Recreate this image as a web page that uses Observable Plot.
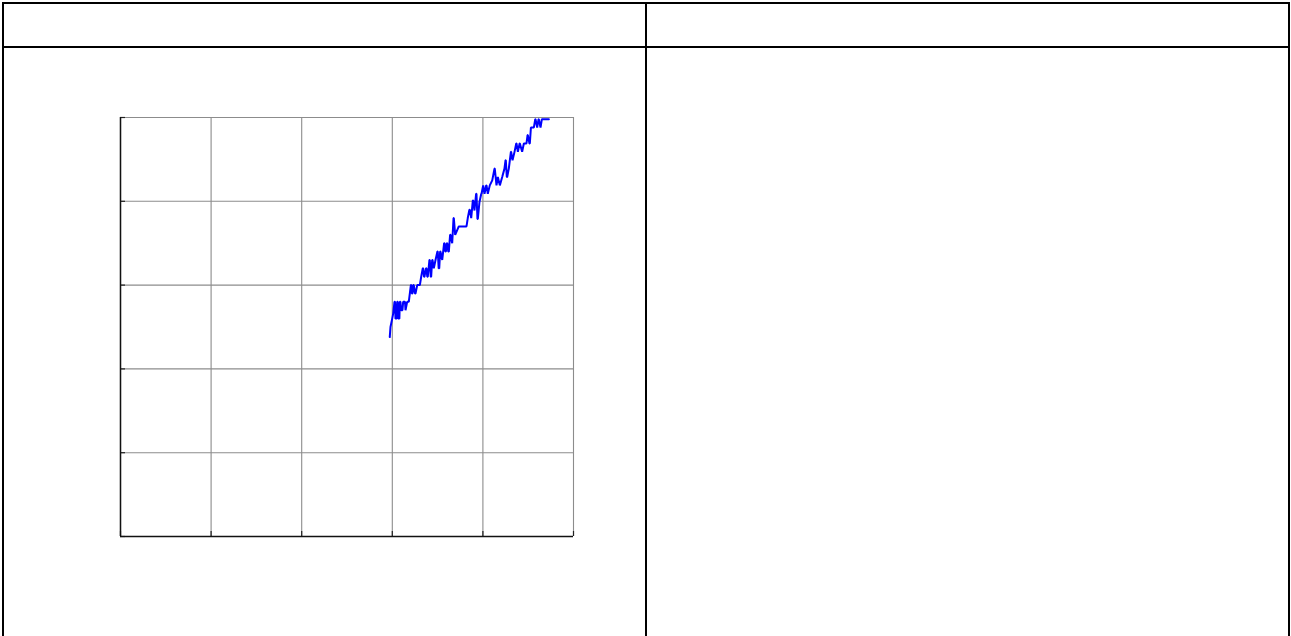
<!DOCTYPE html>
<html>
<head>
<meta charset="utf-8">
<script src="https://cdn.jsdelivr.net/npm/d3@7"></script>
<script src="https://cdn.jsdelivr.net/npm/@observablehq/plot@0.6"></script>
<style>
  html, body { margin: 0; padding: 0; background: #fff; overflow: hidden; }
  body { width: 1291px; height: 636px; position: relative; font-family: "Liberation Sans", Arial, sans-serif; }
  #outer { position: absolute; left: 2px; top: 2px; width: 1284px; height: 700px; border: 2px solid #000; }
  #hline { position: absolute; left: 2px; top: 46px; width: 1288px; height: 2px; background: #000; }
  #vline { position: absolute; left: 645px; top: 2px; width: 2px; height: 700px; background: #000; }
  #chart { position: absolute; left: 0px; top: 48px; }
</style>
</head>
<body>
<div id="outer"></div>
<div id="hline"></div>
<div id="vline"></div>
<div id="chart"></div>
<script>
const xTicks = [0, 1, 2, 3, 4, 5];
const yTicks = [0, 1, 2, 3, 4, 5];

const xs = [2.972, 2.976, 2.980, 2.999, 3.010, 3.024, 3.030, 3.035, 3.048, 3.054, 3.060, 3.065, 3.078, 3.083, 3.090, 3.098,
  3.112, 3.120, 3.140, 3.146, 3.164, 3.182, 3.205, 3.209, 3.216, 3.223, 3.232, 3.237, 3.250, 3.256, 3.275, 3.304,
  3.319, 3.336, 3.341, 3.350, 3.355, 3.372, 3.377, 3.386, 3.392, 3.410, 3.414, 3.424, 3.429, 3.440, 3.444, 3.458, 3.477,
  3.498, 3.502, 3.512, 3.518, 3.528, 3.532, 3.551, 3.572, 3.576, 3.586, 3.591, 3.602, 3.606, 3.618, 3.624, 3.638, 3.642, 3.661,
  3.676, 3.679, 3.694, 3.734, 3.819, 3.833, 3.851, 3.855, 3.871, 3.889, 3.893, 3.907, 3.925, 3.929,
  3.940, 3.944, 3.962, 3.982, 3.985, 4.003, 4.018, 4.036, 4.040, 4.054, 4.076, 4.103, 4.128, 4.131,
  4.150, 4.165, 4.187, 4.213, 4.238, 4.250, 4.253, 4.264, 4.268, 4.286, 4.309, 4.312, 4.327,
  4.349, 4.368, 4.371, 4.386, 4.405, 4.408, 4.433, 4.452, 4.481, 4.493, 4.496, 4.514, 4.518, 4.530, 4.533,
  4.562, 4.578, 4.581, 4.599, 4.614, 4.617, 4.636, 4.651, 4.654, 4.728];
const ys = [2.38, 2.44, 2.50, 2.60, 2.66, 2.80, 2.80, 2.60, 2.60, 2.80, 2.80, 2.60, 2.60, 2.80, 2.80, 2.70,
  2.70, 2.80, 2.80, 2.70, 2.80, 2.80, 3.00, 3.00, 2.90, 2.90, 3.00, 3.00, 2.90, 2.90, 3.00, 3.00,
  3.10, 3.20, 3.20, 3.10, 3.10, 3.20, 3.20, 3.10, 3.10, 3.30, 3.30, 3.10, 3.10, 3.30, 3.30, 3.20, 3.30,
  3.40, 3.40, 3.20, 3.20, 3.40, 3.40, 3.30, 3.50, 3.50, 3.40, 3.40, 3.50, 3.50, 3.40, 3.40, 3.60, 3.60, 3.50,
  3.80, 3.80, 3.60, 3.70, 3.70, 3.80, 3.90, 3.90, 3.80, 4.01, 4.01, 3.89, 4.09, 4.09,
  3.79, 3.79, 3.99, 4.09, 4.09, 4.19, 4.09, 4.19, 4.19, 4.09, 4.19, 4.25, 4.39, 4.39,
  4.19, 4.29, 4.19, 4.29, 4.39, 4.49, 4.49, 4.29, 4.29, 4.39, 4.59, 4.59, 4.49,
  4.59, 4.69, 4.69, 4.59, 4.69, 4.69, 4.59, 4.69, 4.69, 4.79, 4.79, 4.69, 4.69, 4.88, 4.88,
  4.88, 4.98, 4.98, 4.88, 4.98, 4.98, 4.88, 4.98, 4.98, 4.98];

const series = xs.map((x, i) => ({x, y: ys[i]}));

const plot = Plot.plot({
  width: 645,
  height: 560,
  marginLeft: 120,
  marginRight: 72,
  marginTop: 69,
  marginBottom: 72,
  x: {domain: [0, 5], ticks: xTicks, label: null},
  y: {domain: [0, 5], ticks: yTicks, label: null},
  marks: [
    Plot.gridX(xTicks, {stroke: "#8c8c8c", strokeOpacity: 1, strokeWidth: 1.1}),
    Plot.gridY(yTicks, {stroke: "#8c8c8c", strokeOpacity: 1, strokeWidth: 1.1}),
    Plot.axisX(xTicks, {anchor: "bottom", label: null, tickSize: 5, dy: -5, tickFormat: () => "", stroke: "#222", strokeWidth: 1.2}),
    Plot.axisY(yTicks, {anchor: "left", label: null, tickSize: 5, dx: 5, tickFormat: () => "", stroke: "#222", strokeWidth: 1.2}),
    Plot.ruleX([0], {stroke: "#111", strokeWidth: 1.5}),
    Plot.ruleY([0], {stroke: "#111", strokeWidth: 1.5}),
    Plot.line(series, {x: "x", y: "y", stroke: "#0000ff", strokeWidth: 2, strokeLinejoin: "miter"})
  ]
});
document.getElementById("chart").appendChild(plot);
</script>
</body>
</html>
